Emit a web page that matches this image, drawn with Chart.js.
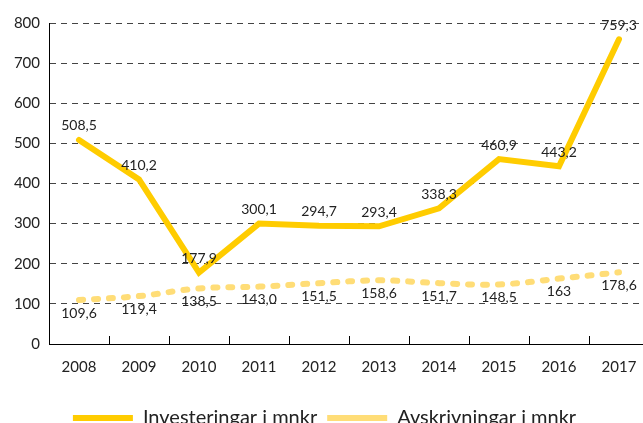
<!DOCTYPE html>
<html>
<head>
<meta charset="utf-8">
<script src="https://cdn.jsdelivr.net/npm/chart.js@4"></script>
<style>
  html, body { margin: 0; padding: 0; background: #fff; overflow: hidden; }
  #wrap { width: 650px; height: 438px; }
</style>
</head>
<body>
<div id="wrap"><canvas id="chart"></canvas></div>
<script>
const years = ["2008", "2009", "2010", "2011", "2012", "2013", "2014", "2015", "2016", "2017"];
const investValues = [508.5, 410.2, 177.9, 300.1, 294.7, 293.4, 338.3, 460.9, 443.2, 759.3];
const investLabels = ["508,5", "410,2", "177,9", "300,1", "294,7", "293,4", "338,3", "460,9", "443,2", "759,3"];
const deprValues = [109.6, 119.4, 138.5, 143.0, 151.5, 158.6, 151.7, 148.5, 163, 178.6];
const deprLabels = ["109,6", "119,4", "138,5", "143,0", "151,5", "158,6", "151,7", "148,5", "163", "178,6"];

Chart.defaults.font.family = "Lato, 'Open Sans', sans-serif";
Chart.defaults.color = "#222";

// value labels: first series above the line, second below
const valueLabels = {
  id: "valueLabels",
  afterDatasetsDraw(chart) {
    const ctx = chart.ctx;
    ctx.save();
    ctx.font = "14px Lato";
    ctx.fillStyle = "#222";
    ctx.textAlign = "center";
    ctx.textBaseline = "middle";
    chart.data.datasets.forEach((ds, i) => {
      const meta = chart.getDatasetMeta(i);
      const texts = i === 0 ? investLabels : deprLabels;
      meta.data.forEach((pt, j) => {
        const dy = i === 0 ? -14 : 13;
        ctx.fillText(texts[j], pt.x, pt.y + dy);
      });
    });
    ctx.restore();
  }
};

// small tick marks between categories, pointing up from the x axis
const innerTicks = {
  id: "innerTicks",
  afterDraw(chart) {
    const x = chart.scales.x;
    const ctx = chart.ctx;
    const half = (x.getPixelForValue(1) - x.getPixelForValue(0)) / 2;
    ctx.save();
    ctx.strokeStyle = "#000";
    ctx.lineWidth = 1;
    ctx.beginPath();
    for (let i = 1; i < years.length; i++) {
      const px = Math.round(x.getPixelForValue(i) - half) + 0.5;
      ctx.moveTo(px, x.top);
      ctx.lineTo(px, x.top - 8);
    }
    ctx.stroke();
    ctx.restore();
  }
};

new Chart(document.getElementById("chart"), {
  type: "line",
  data: {
    labels: years,
    datasets: [
      {
        label: "Investeringar i mnkr",
        data: investValues,
        borderColor: "#FFCC00",
        backgroundColor: "#FFCC00",
        borderWidth: 6,
        borderCapStyle: "round",
        pointRadius: 0,
        tension: 0
      },
      {
        label: "Avskrivningar i mnkr",
        data: deprValues,
        borderColor: "#FFDD77",
        backgroundColor: "#FFDD77",
        borderWidth: 6,
        borderDash: [4, 11],
        borderCapStyle: "round",
        pointRadius: 0,
        tension: 0.4
      }
    ]
  },
  options: {
    responsive: true,
    maintainAspectRatio: false,
    animation: false,
    layout: { padding: { top: 23, right: 1, left: 0, bottom: 0 } },
    plugins: {
      tooltip: { enabled: false },
      legend: {
        position: "bottom",
        labels: {
          usePointStyle: true,
          pointStyle: "line",
          pointStyleWidth: 60,
          padding: 10,
          color: "#222",
          font: { size: 20 }
        }
      }
    },
    scales: {
      x: {
        offset: true,
        grid: { display: false },
        border: { display: true, color: "#000", width: 1 },
        ticks: { font: { size: 15 }, padding: 6, color: "#222" },
        afterFit(scale) { scale.height = 54; }
      },
      y: {
        min: 0,
        max: 800,
        ticks: { stepSize: 100, font: { size: 15 }, padding: 9, color: "#222" },
        grid: { color: "#444", drawTicks: false },
        border: { display: true, color: "#000", width: 1, dash: [6, 5] },
        afterFit(scale) { scale.width = 49; }
      }
    }
  },
  plugins: [valueLabels, innerTicks]
});
</script>
</body>
</html>
